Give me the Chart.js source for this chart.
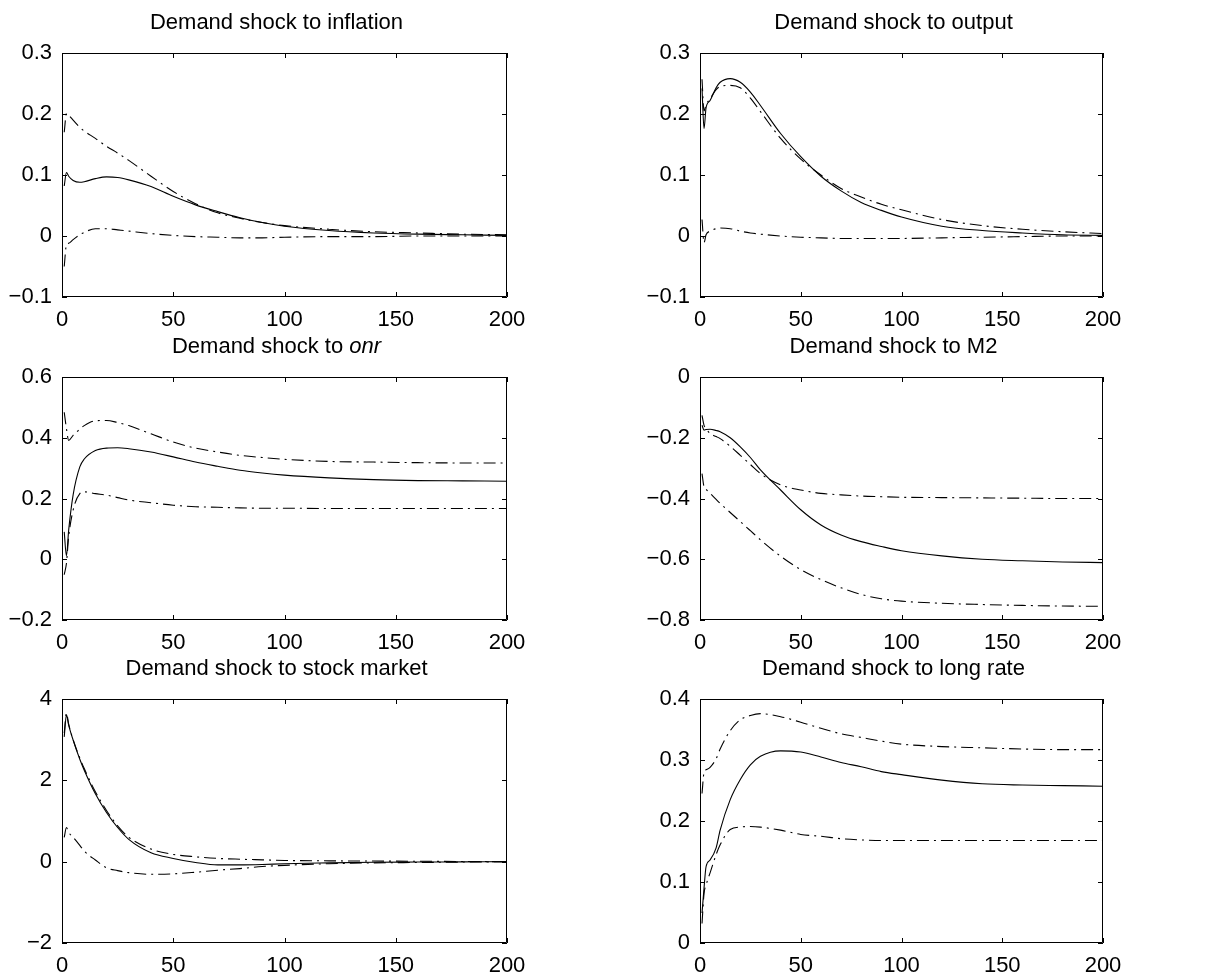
<!DOCTYPE html>
<html>
<head>
<meta charset="utf-8">
<title>Demand shock responses</title>
<script src="https://cdn.jsdelivr.net/npm/chart.js@4/dist/chart.umd.min.js"></script>
<style>
  html, body { margin: 0; padding: 0; background: #fff; }
  #wrap { position: relative; width: 1218px; height: 976px; overflow: hidden; }
  #wrap canvas { position: absolute; }
</style>
</head>
<body>
<div id="wrap"></div>
<script>
// Horizon (periods) at which each response is sampled
const HORIZON = [1, 2, 3, 5, 8, 10, 15, 20, 25, 30, 40, 50, 60, 70, 80, 90, 100, 120, 140, 160, 180, 200];
const X_TICKS = [0, 50, 100, 150, 200];

// inflation
const inflationMedian = [0.082, 0.104, 0.098, 0.091, 0.088, 0.089, 0.094, 0.097, 0.096, 0.092, 0.081, 0.065, 0.051, 0.040, 0.030, 0.022, 0.016, 0.009, 0.005, 0.003, 0.002, 0.001];
const inflationUpper  = [0.170, 0.201, 0.198, 0.190, 0.178, 0.172, 0.160, 0.147, 0.136, 0.124, 0.098, 0.073, 0.053, 0.038, 0.029, 0.022, 0.017, 0.011, 0.007, 0.005, 0.003, 0.002];
const inflationLower  = [-0.050, -0.014, -0.012, -0.006, 0.002, 0.006, 0.012, 0.012, 0.010, 0.008, 0.004, 0.001, -0.001, -0.002, -0.003, -0.003, -0.002, -0.001, -0.001, 0, 0, 0];
const inflationTicks  = [-0.1, 0, 0.1, 0.2, 0.3];

// output
const outputMedian = [0.242, 0.176, 0.210, 0.222, 0.243, 0.252, 0.258, 0.252, 0.236, 0.214, 0.168, 0.130, 0.098, 0.074, 0.055, 0.042, 0.031, 0.016, 0.009, 0.005, 0.002, 0.001];
const outputUpper  = [0.257, 0.205, 0.215, 0.225, 0.240, 0.245, 0.247, 0.243, 0.226, 0.204, 0.160, 0.126, 0.100, 0.078, 0.064, 0.052, 0.043, 0.027, 0.017, 0.011, 0.007, 0.004];
const outputLower  = [0.027, -0.011, 0.002, 0.008, 0.012, 0.013, 0.012, 0.008, 0.005, 0.003, 0.000, -0.002, -0.003, -0.004, -0.004, -0.004, -0.004, -0.003, -0.002, -0.001, 0, 0];
const outputTicks  = [-0.1, 0, 0.1, 0.2, 0.3];

// overnight rate
const onrMedian = [0.090, 0.011, 0.096, 0.212, 0.304, 0.330, 0.358, 0.366, 0.367, 0.364, 0.353, 0.337, 0.320, 0.306, 0.293, 0.284, 0.277, 0.268, 0.262, 0.259, 0.258, 0.257];
const onrUpper  = [0.484, 0.430, 0.391, 0.408, 0.428, 0.440, 0.456, 0.457, 0.450, 0.440, 0.413, 0.386, 0.366, 0.353, 0.342, 0.335, 0.329, 0.322, 0.320, 0.318, 0.317, 0.317];
const onrLower  = [-0.051, -0.013, 0.074, 0.162, 0.216, 0.222, 0.216, 0.211, 0.203, 0.195, 0.186, 0.178, 0.173, 0.171, 0.169, 0.168, 0.168, 0.167, 0.167, 0.167, 0.167, 0.167];
const onrTicks  = [-0.2, 0, 0.2, 0.4, 0.6];

// M2
const m2Median = [-0.159, -0.175, -0.173, -0.172, -0.176, -0.180, -0.200, -0.230, -0.265, -0.306, -0.372, -0.437, -0.487, -0.520, -0.542, -0.558, -0.572, -0.589, -0.600, -0.605, -0.609, -0.611];
const m2Upper  = [-0.126, -0.159, -0.170, -0.186, -0.196, -0.203, -0.228, -0.258, -0.288, -0.318, -0.355, -0.372, -0.383, -0.388, -0.392, -0.394, -0.396, -0.397, -0.398, -0.399, -0.400, -0.400];
const m2Lower  = [-0.318, -0.362, -0.370, -0.383, -0.403, -0.416, -0.446, -0.476, -0.506, -0.536, -0.590, -0.634, -0.667, -0.694, -0.716, -0.730, -0.738, -0.745, -0.749, -0.752, -0.754, -0.755];
const m2Ticks  = [-0.8, -0.6, -0.4, -0.2, 0];

// stock market
const stockMedian = [3.07, 3.61, 3.36, 2.99, 2.52, 2.25, 1.67, 1.21, 0.84, 0.55, 0.22, 0.08, -0.02, -0.08, -0.08, -0.07, -0.05, -0.03, -0.015, -0.01, -0.005, 0];
const stockUpper  = [3.16, 3.65, 3.38, 3.00, 2.55, 2.29, 1.72, 1.26, 0.88, 0.60, 0.31, 0.18, 0.12, 0.08, 0.06, 0.045, 0.03, 0.02, 0.015, 0.01, 0.005, 0];
const stockLower  = [0.60, 0.84, 0.72, 0.60, 0.40, 0.26, 0.04, -0.15, -0.22, -0.27, -0.31, -0.30, -0.26, -0.21, -0.17, -0.12, -0.09, -0.05, -0.03, -0.02, -0.01, 0];
const stockTicks  = [-2, 0, 2, 4];

// long rate
const longMedian = [0.049, 0.090, 0.125, 0.136, 0.156, 0.185, 0.235, 0.268, 0.292, 0.306, 0.315, 0.313, 0.305, 0.296, 0.289, 0.281, 0.276, 0.267, 0.261, 0.259, 0.258, 0.257];
const longUpper  = [0.245, 0.280, 0.284, 0.288, 0.302, 0.318, 0.348, 0.366, 0.373, 0.376, 0.371, 0.362, 0.352, 0.343, 0.337, 0.331, 0.326, 0.322, 0.320, 0.318, 0.317, 0.317];
const longLower  = [0.032, 0.081, 0.095, 0.115, 0.145, 0.161, 0.186, 0.190, 0.191, 0.190, 0.185, 0.178, 0.175, 0.171, 0.169, 0.168, 0.168, 0.168, 0.168, 0.168, 0.168, 0.168];
const longTicks  = [0, 0.1, 0.2, 0.3, 0.4];

const FONT = '"Liberation Sans", Arial, Helvetica, sans-serif';

// title pieces: [text, italic]
const panels = [
  { title: [["Demand shock to inflation", false]], median: inflationMedian, upper: inflationUpper, lower: inflationLower, ticks: inflationTicks },
  { title: [["Demand shock to output", false]], median: outputMedian, upper: outputUpper, lower: outputLower, ticks: outputTicks },
  { title: [["Demand shock to ", false], ["onr", true]], median: onrMedian, upper: onrUpper, lower: onrLower, ticks: onrTicks },
  { title: [["Demand shock to M2", false]], median: m2Median, upper: m2Upper, lower: m2Lower, ticks: m2Ticks },
  { title: [["Demand shock to stock market", false]], median: stockMedian, upper: stockUpper, lower: stockLower, ticks: stockTicks },
  { title: [["Demand shock to long rate", false]], median: longMedian, upper: longUpper, lower: longLower, ticks: longTicks }
];

// plot boxes on the page
const COLS = [{ left: 62, width: 445 }, { left: 700, width: 403 }];
const ROWS = [{ top: 53, height: 244 }, { top: 377, height: 243 }, { top: 699, height: 244 }];
const PAD_L = 62, PAD_T = 50, PAD_R = 25, PAD_B = 36;

function fmt(v) {
  const s = String(Number(v.toFixed(2)));
  return s.replace("-", "\u2212");
}

function toPoints(ys) {
  return HORIZON.map((x, i) => ({ x, y: ys[i] }));
}

// Box, inward ticks on all four sides, and the panel title
const framePlugin = {
  id: "frame",
  afterDraw(chart) {
    const { ctx, chartArea: a, scales } = chart;
    const tl = 5;
    ctx.save();
    ctx.strokeStyle = "#000";
    ctx.lineWidth = 1;
    ctx.beginPath();
    ctx.rect(a.left + 0.5, a.top + 0.5, a.right - a.left - 1, a.bottom - a.top - 1);
    scales.x.ticks.forEach(t => {
      const px = Math.round(scales.x.getPixelForValue(t.value)) + 0.5;
      ctx.moveTo(px, a.bottom); ctx.lineTo(px, a.bottom - tl);
      ctx.moveTo(px, a.top); ctx.lineTo(px, a.top + tl);
    });
    scales.y.ticks.forEach(t => {
      const py = Math.round(scales.y.getPixelForValue(t.value)) + 0.5;
      ctx.moveTo(a.left, py); ctx.lineTo(a.left + tl, py);
      ctx.moveTo(a.right, py); ctx.lineTo(a.right - tl, py);
    });
    ctx.stroke();

    const parts = chart.options.plugins.frame.title;
    ctx.fillStyle = "#000";
    ctx.textBaseline = "middle";
    ctx.textAlign = "left";
    let total = 0;
    parts.forEach(([txt, it]) => {
      ctx.font = (it ? "italic " : "") + "22px " + FONT;
      total += ctx.measureText(txt).width;
    });
    let x = (a.left + a.right) / 2 - 8 - total / 2;
    const y = a.top - 30;
    parts.forEach(([txt, it]) => {
      ctx.font = (it ? "italic " : "") + "22px " + FONT;
      ctx.fillText(txt, x, y);
      x += ctx.measureText(txt).width;
    });
    ctx.restore();
  }
};

const wrap = document.getElementById("wrap");

panels.forEach((p, i) => {
  const col = COLS[i % 2], row = ROWS[Math.floor(i / 2)];
  const canvas = document.createElement("canvas");
  const w = col.width + PAD_L + PAD_R, h = row.height + PAD_T + PAD_B;
  canvas.width = w; canvas.height = h;
  canvas.style.left = (col.left - PAD_L) + "px";
  canvas.style.top = (row.top - PAD_T) + "px";
  canvas.style.width = w + "px"; canvas.style.height = h + "px";
  wrap.appendChild(canvas);

  const line = (data, dash) => ({
    data: toPoints(data),
    borderColor: "#000",
    borderWidth: 1.1,
    borderDash: dash,
    pointRadius: 0,
    fill: false,
    cubicInterpolationMode: "monotone"
  });

  new Chart(canvas, {
    type: "line",
    data: {
      datasets: [
        line(p.median, []),
        line(p.upper, [12, 5, 2, 5]),
        line(p.lower, [12, 5, 2, 5])
      ]
    },
    plugins: [framePlugin],
    options: {
      responsive: false,
      animation: false,
      events: [],
      layout: { padding: { top: PAD_T, right: PAD_R, left: 0, bottom: 0 } },
      plugins: {
        legend: { display: false },
        tooltip: { enabled: false },
        frame: { title: p.title }
      },
      scales: {
        x: {
          type: "linear",
          min: 0,
          max: 200,
          afterBuildTicks: s => { s.ticks = X_TICKS.map(v => ({ value: v })); },
          afterFit: s => { s.height = PAD_B; s.paddingLeft = 0; s.paddingRight = 0; },
          grid: { display: false, drawTicks: false },
          border: { display: false },
          ticks: { color: "#000", padding: 10, maxRotation: 0, font: { size: 22, family: FONT }, callback: v => fmt(v) }
        },
        y: {
          min: p.ticks[0],
          max: p.ticks[p.ticks.length - 1],
          afterBuildTicks: s => { s.ticks = p.ticks.map(v => ({ value: v })); },
          afterFit: s => { s.width = PAD_L; s.paddingTop = 0; s.paddingBottom = 0; },
          grid: { display: false, drawTicks: false },
          border: { display: false },
          ticks: { color: "#000", padding: 10, font: { size: 22, family: FONT }, callback: v => fmt(v) }
        }
      }
    }
  });
});
</script>
</body>
</html>
